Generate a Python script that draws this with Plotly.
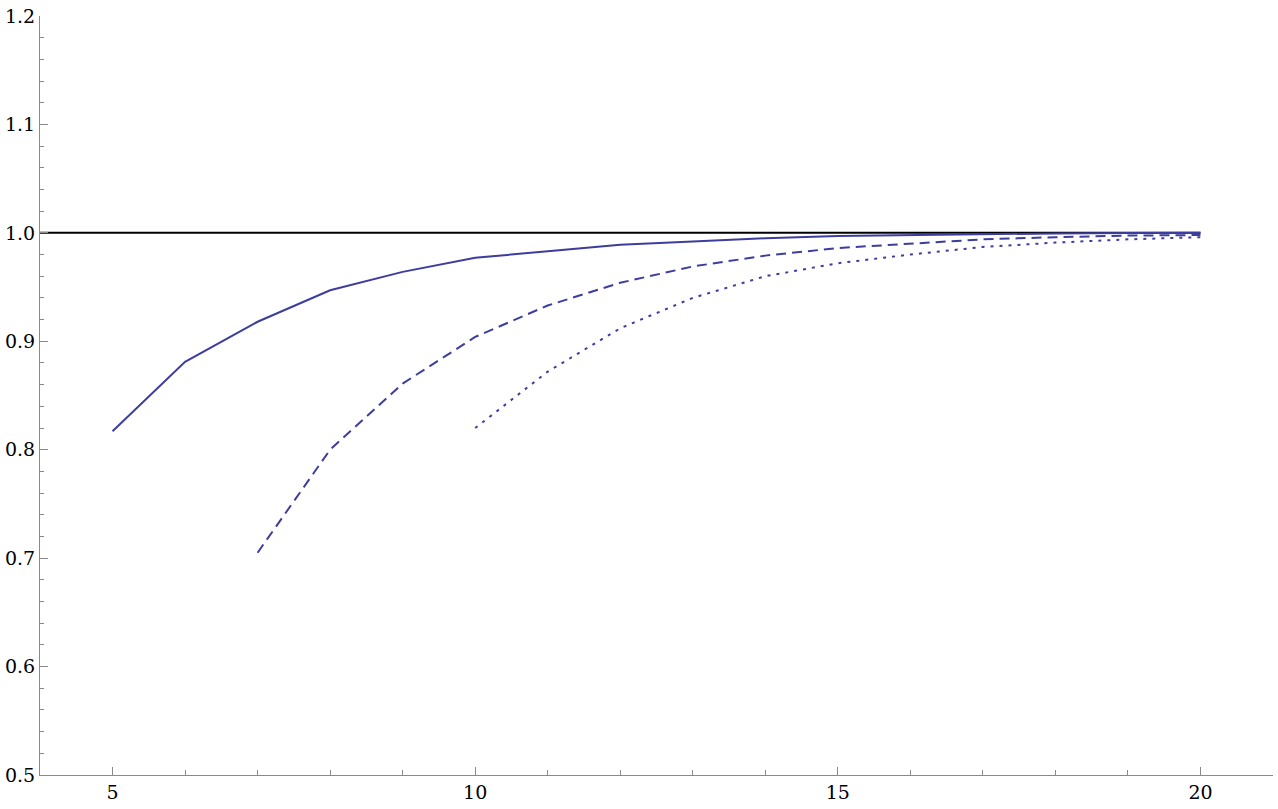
import plotly.graph_objects as go

x_solid = [5, 6, 7, 8, 9, 10, 11, 12, 13, 14, 15, 16, 17, 18, 19, 20]
y_solid = [0.817, 0.881, 0.918, 0.947, 0.964, 0.977, 0.983, 0.989, 0.992, 0.995,
           0.997, 0.998, 0.999, 0.9995, 0.9998, 1.0]

x_dashed = [7, 8, 9, 10, 11, 12, 13, 14, 15, 16, 17, 18, 19, 20]
y_dashed = [0.705, 0.800, 0.861, 0.904, 0.933, 0.954, 0.969, 0.979, 0.986, 0.990,
            0.994, 0.996, 0.9975, 0.998]

x_dotted = [10, 11, 12, 13, 14, 15, 16, 17, 18, 19, 20]
y_dotted = [0.820, 0.872, 0.912, 0.940, 0.960, 0.972, 0.980, 0.987, 0.991, 0.994, 0.996]

x_ref = [4, 20]
y_ref = [1.0, 1.0]

blue = "#3d3d9e"

fig = go.Figure()
fig.add_trace(go.Scatter(x=x_ref, y=y_ref, mode="lines",
                         line=dict(color="black", width=2), showlegend=False))
fig.add_trace(go.Scatter(x=x_solid, y=y_solid, mode="lines",
                         line=dict(color=blue, width=2), showlegend=False))
fig.add_trace(go.Scatter(x=x_dashed, y=y_dashed, mode="lines",
                         line=dict(color=blue, width=2, dash="10px,6px"), showlegend=False))
fig.add_trace(go.Scatter(x=x_dotted, y=y_dotted, mode="lines",
                         line=dict(color=blue, width=2, dash="3px,6px"), showlegend=False))

axis_common = dict(
    showgrid=False, zeroline=False, showline=True, linecolor="#8a8a8a", linewidth=1,
    ticks="inside", ticklen=8, tickcolor="#8a8a8a", tickwidth=1,
    tickfont=dict(family="DejaVu Serif", size=19, color="black"),
)

fig.update_layout(
    width=1278, height=809,
    margin=dict(l=40, r=5, t=13, b=34),
    paper_bgcolor="white", plot_bgcolor="white",
    font=dict(family="DejaVu Serif"),
    xaxis=dict(range=[4, 21], tick0=5, dtick=5,
               minor=dict(dtick=1, tick0=0, ticks="inside", ticklen=5,
                          tickcolor="#8a8a8a", tickwidth=1, showgrid=False),
               **axis_common),
    yaxis=dict(range=[0.5, 1.2], tick0=0.5, dtick=0.1, tickformat=".1f",
               minor=dict(dtick=0.02, tick0=0.5, ticks="inside", ticklen=4,
                          tickcolor="#8a8a8a", tickwidth=1, showgrid=False),
               **axis_common),
)

fig.write_html("out.html")
